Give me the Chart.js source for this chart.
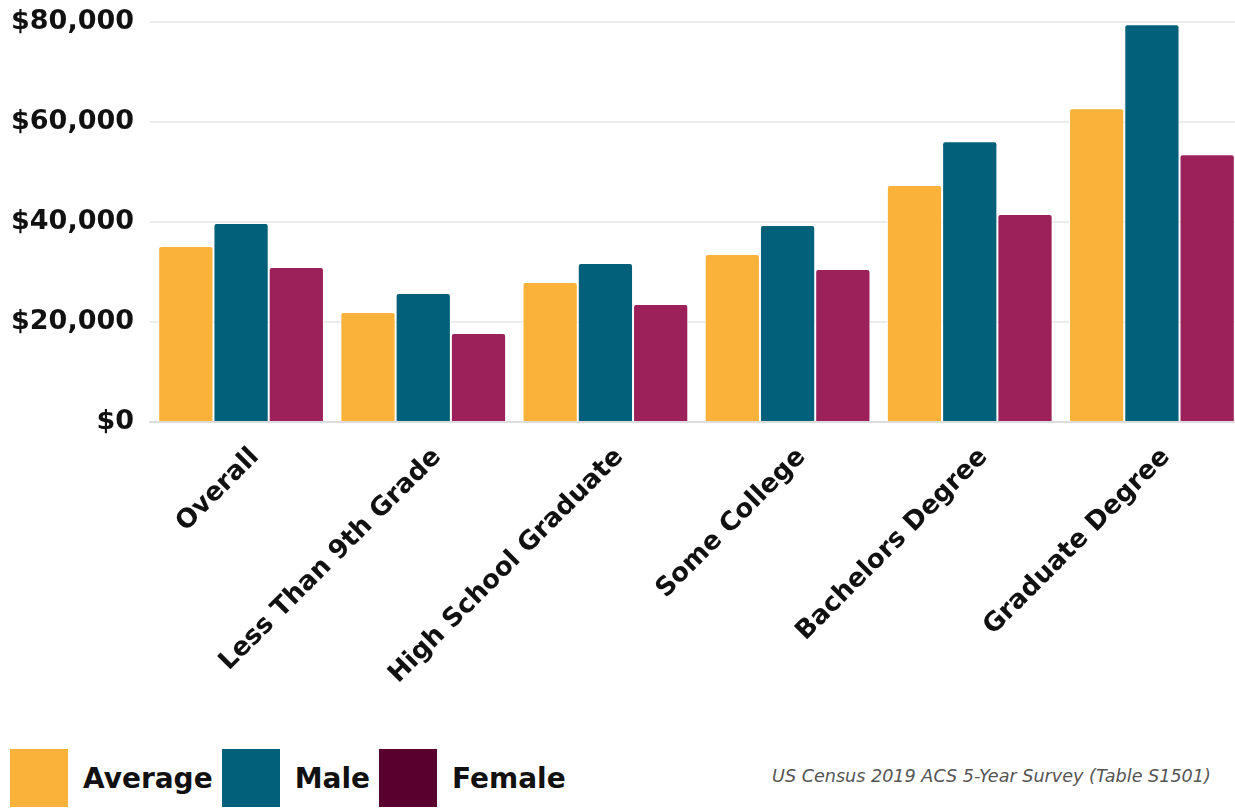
<!DOCTYPE html>
<html>
<head>
<meta charset="utf-8">
<script src="https://cdn.jsdelivr.net/npm/chart.js@4/dist/chart.umd.min.js"></script>
<style>
    html, body { margin: 0; padding: 0; background: #fff; }
    #wrap { position: relative; width: 1235px; height: 808px; overflow: hidden; }
    #chart-box { position: absolute; left: 0; top: -10px; width: 1243px; height: 740px; }
    .legend { position: absolute; left: 10px; top: 749px; display: flex; align-items: center;
        font-family: 'DejaVu Sans', sans-serif; font-weight: 700; font-size: 28px; color: #111; }
    .legend .sw { width: 58px; height: 58px; margin-right: 15px; }
    .legend .item { display: flex; align-items: center; margin-right: 9px; }
    .note { position: absolute; left: 772px; top: 766px; font-family: 'DejaVu Sans', sans-serif;
        font-style: italic; font-size: 17.6px; color: #555; }
</style>
</head>
<body>
<div id="wrap">
    <div id="chart-box"><canvas id="income-chart"></canvas></div>
    <div class="legend" id="legend"></div>
    <div class="note">US Census 2019 ACS 5-Year Survey (Table S1501)</div>
</div>
<script>
    // median earnings by education level
    var categories = ['Overall', 'Less Than 9th Grade', 'High School Graduate', 'Some College', 'Bachelors Degree', 'Graduate Degree'];
    var averageValues = [35200, 22000, 28000, 33600, 47400, 62800];
    var maleValues = [39800, 25800, 31800, 39400, 56200, 79600];
    var femaleValues = [31000, 17800, 23600, 30600, 41600, 53600];
    var seriesNames = ['Average', 'Male', 'Female'];
    var yTicks = [0, 20000, 40000, 60000, 80000];

    var barColors = ['#fbb23a', '#02607a', '#9c2059'];
    var legendColors = ['#fbb23a', '#02607a', '#58002e'];

    var legendEl = document.getElementById('legend');
    seriesNames.forEach(function (name, i) {
        var item = document.createElement('div');
        item.className = 'item';
        item.innerHTML = '<div class="sw" style="background:' + legendColors[i] + '"></div><span>' + name + '</span>';
        legendEl.appendChild(item);
    });

    function makeDataset(label, data, color) {
        return {
            label: label,
            data: data,
            backgroundColor: color,
            borderColor: '#ffffff',
            borderWidth: 1,
            borderRadius: 3,
            borderSkipped: 'bottom',
            barPercentage: 1.0,
            categoryPercentage: 0.91
        };
    }

    var ctx = document.getElementById('income-chart').getContext('2d');
    new Chart(ctx, {
        type: 'bar',
        data: {
            labels: categories,
            datasets: [
                makeDataset(seriesNames[0], averageValues, barColors[0]),
                makeDataset(seriesNames[1], maleValues, barColors[1]),
                makeDataset(seriesNames[2], femaleValues, barColors[2])
            ]
        },
        options: {
            responsive: true,
            maintainAspectRatio: false,
            animation: false,
            layout: { padding: { top: 0, right: 0, bottom: 0, left: 11 } },
            plugins: {
                legend: { display: false },
                tooltip: { enabled: false }
            },
            scales: {
                x: {
                    grid: { display: false },
                    border: { display: true, color: '#dddddd', width: 2 },
                    ticks: {
                        color: '#111',
                        maxRotation: 45,
                        minRotation: 45,
                        padding: 12,
                        labelOffset: 14,
                        font: { family: 'DejaVu Sans', weight: 'bold', size: 26 }
                    },
                    afterFit: function (scale) { scale.height = 308; }
                },
                y: {
                    min: 0,
                    max: 80000,
                    grid: { color: '#ececec', lineWidth: 2, drawTicks: false },
                    border: { display: false },
                    afterBuildTicks: function (scale) {
                        scale.ticks = yTicks.map(function (v) { return { value: v }; });
                    },
                    ticks: {
                        color: '#111',
                        padding: 16,
                        font: { family: 'DejaVu Sans', weight: 'bold', size: 27 },
                        callback: function (v) { return '$' + v.toLocaleString('en-US'); }
                    },
                    afterFit: function (scale) { scale.width = 139; }
                }
            }
        }
    });
</script>
</body>
</html>
